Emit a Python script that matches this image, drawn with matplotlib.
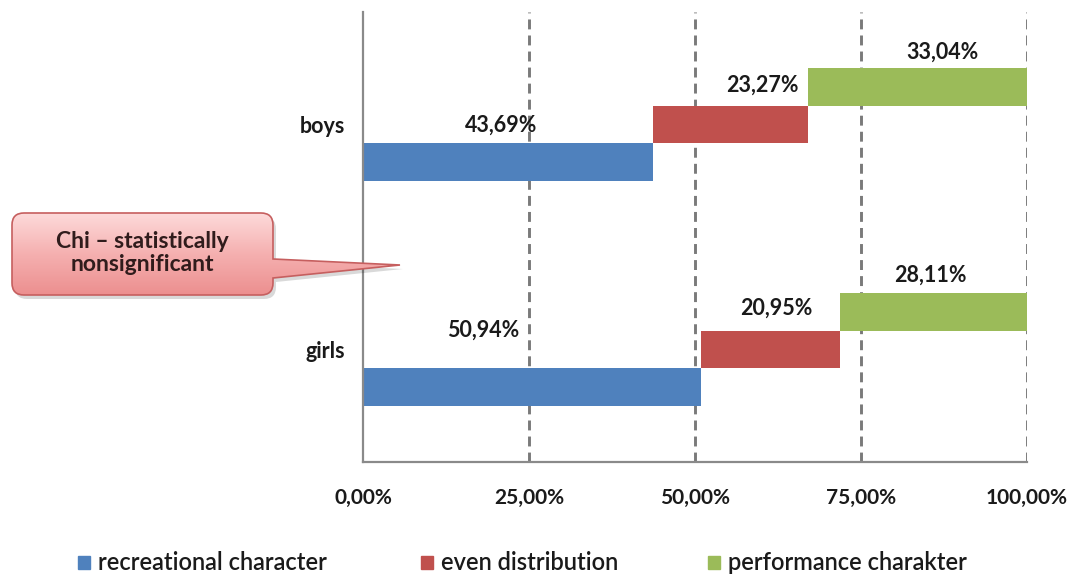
import matplotlib
matplotlib.use('Agg')
import numpy as np
import matplotlib.pyplot as plt
from matplotlib.path import Path
from matplotlib.patches import PathPatch, Rectangle
from matplotlib.colors import LinearSegmentedColormap

plt.rcParams['font.family'] = ['Lato', 'DejaVu Sans']

# data
groups = ['boys', 'girls']
series = ['recreational character', 'even distribution', 'performance charakter']
recreational = [43.69, 50.94]
even = [23.27, 20.95]
performance = [33.04, 28.11]
x_ticks = [0, 25, 50, 75, 100]
note = 'Chi \u2013 statistically\nnonsignificant'

# layout / style
colors = ['#4F81BD', '#C0504D', '#9BBB59']
offsets = [0.167, 0.0, -0.167]   # each series sits one step higher
bar_h = 0.167
# where the value labels sit (x in %, y in category units)
label_pos = [[(20.8, 0.502), (60.1, 0.324), (87.3, 0.178)],
             [(18.1, 1.413), (62.2, 1.316), (85.5, 1.169)]]
legend_x = [78, 421, 708]   # pixel x of each legend square
W, H = 1075, 575
txt = '#1a1a1a'


def fmt(v):
    return f'{v:.2f}%'.replace('.', ',')


fig = plt.figure(figsize=(W / 100, H / 100), dpi=100)
ax = fig.add_axes([363 / W, 1 - 462 / H, 664 / W, 450 / H])

values = [recreational, even, performance]
ypos = np.arange(len(groups)) + 0.5
left = np.zeros(len(groups))
for i, vals in enumerate(values):
    ax.barh(ypos + offsets[i], vals, height=bar_h, left=left,
            color=colors[i], zorder=2)
    for g in range(len(groups)):
        lx, ly = label_pos[g][i]
        ax.text(lx, ly, fmt(vals[g]), ha='center', va='center', fontsize=15.5,
                fontweight='bold', color=txt, zorder=4)
    left = left + np.array(vals)

ax.set_xlim(0, 100)
ax.set_ylim(2, 0)
for x in x_ticks[1:]:
    ax.axvline(x, color='#7a7a7a', lw=2.1, ls=(0, (3.4, 2.1)), zorder=1)

ax.set_xticks(x_ticks)
ax.set_xticklabels([fmt(x) for x in x_ticks], fontsize=15, fontweight='bold',
                   color=txt)
ax.set_yticks(ypos)
ax.set_yticklabels(groups, fontsize=15.5, fontweight='bold', color=txt)
ax.tick_params(axis='x', length=0, pad=19)
ax.tick_params(axis='y', length=0, pad=13)
for s in ['top', 'right']:
    ax.spines[s].set_visible(False)
for s in ['left', 'bottom']:
    ax.spines[s].set_color('#8a8a8a')
    ax.spines[s].set_linewidth(1.6)

# overlay in pixel coordinates for legend and callout
ov = fig.add_axes([0, 0, 1, 1], zorder=5)
ov.set_xlim(0, W)
ov.set_ylim(H, 0)
ov.axis('off')
ov.patch.set_alpha(0)

for lx, c, name in zip(legend_x, colors, series):
    ov.add_patch(Rectangle((lx, 556), 12, 13, color=c))
    ov.text(lx + 20, 562, name, ha='left', va='center', fontsize=17,
            fontweight='semibold', color=txt)

x0, x1, y0, y1, r = 12, 273, 213, 295, 12
tip = (400, 265)
verts = [(x0 + r, y0), (x1 - r, y0), (x1, y0), (x1, y0 + r),
         (x1, 259), tip, (x1, 278),
         (x1, y1 - r), (x1, y1), (x1 - r, y1),
         (x0 + r, y1), (x0, y1), (x0, y1 - r),
         (x0, y0 + r), (x0, y0), (x0 + r, y0), (x0 + r, y0)]
codes = [Path.MOVETO, Path.LINETO, Path.CURVE3, Path.CURVE3,
         Path.LINETO, Path.LINETO, Path.LINETO,
         Path.LINETO, Path.CURVE3, Path.CURVE3,
         Path.LINETO, Path.CURVE3, Path.CURVE3,
         Path.LINETO, Path.CURVE3, Path.CURVE3, Path.CLOSEPOLY]
callout = Path(verts, codes)
shadow = Path(np.array(verts) + [3, 4], codes)
ov.add_patch(PathPatch(shadow, facecolor='#000000', alpha=0.15, lw=0))
grad = np.linspace(0, 1, 100).reshape(-1, 1)
cmap = LinearSegmentedColormap.from_list('pink', ['#FDDADA', '#F5B0B0', '#EC8F8F'])
im = ov.imshow(grad, cmap=cmap, extent=(x0, tip[0], y1, y0), aspect='auto',
               zorder=2)
im.set_clip_path(PathPatch(callout, transform=ov.transData, facecolor='none'))
ov.add_patch(PathPatch(callout, facecolor='none', edgecolor='#C65F5F', lw=1.2,
                       zorder=3))
ov.text((x0 + x1) / 2, (y0 + y1) / 2 - 1, note, ha='center', va='center',
        fontsize=16.5, fontweight='bold', color='#301c1c', linespacing=1.1,
        zorder=4)
ov.set_xlim(0, W)
ov.set_ylim(H, 0)

fig.savefig('out.png', dpi=100)
